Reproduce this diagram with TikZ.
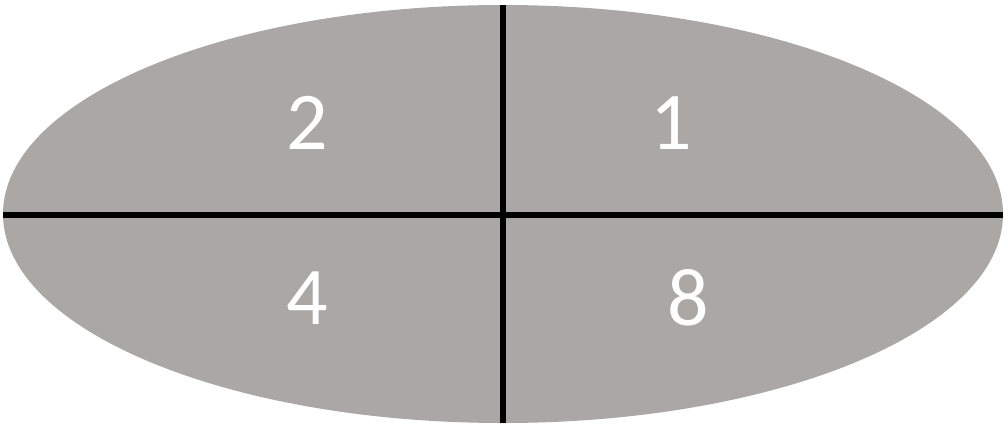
\documentclass[tikz,border=0pt]{standalone}
\usepackage{fontspec}
\setmainfont{Carlito}
\usepackage{tikz}
\definecolor{quadgrey}{RGB}{169,168,167}
\tikzset{digit/.style={text=white,font=\fontsize{82}{82}\selectfont,inner sep=0pt}}

\begin{document}
\begin{tikzpicture}[x=1pt,y=-1pt]
   \useasboundingbox (0,0) rectangle (1008,426);
   % grey ellipse
   \fill[quadgrey] (503,214) ellipse (500 and 209);

   % the two axes
   \draw[line width=6.5pt] (503,5) -- (503,423);
   \draw[line width=6.5pt] (3,215) -- (1003,215);

   \node[digit] (two)   at (307,123) {2};
   \node[digit] (one)   at (671,123) {1};
   \node[digit] (four)  at (307,298) {4};
   \node[digit] (eight) at (688,298) {8};
\end{tikzpicture}
\end{document}
